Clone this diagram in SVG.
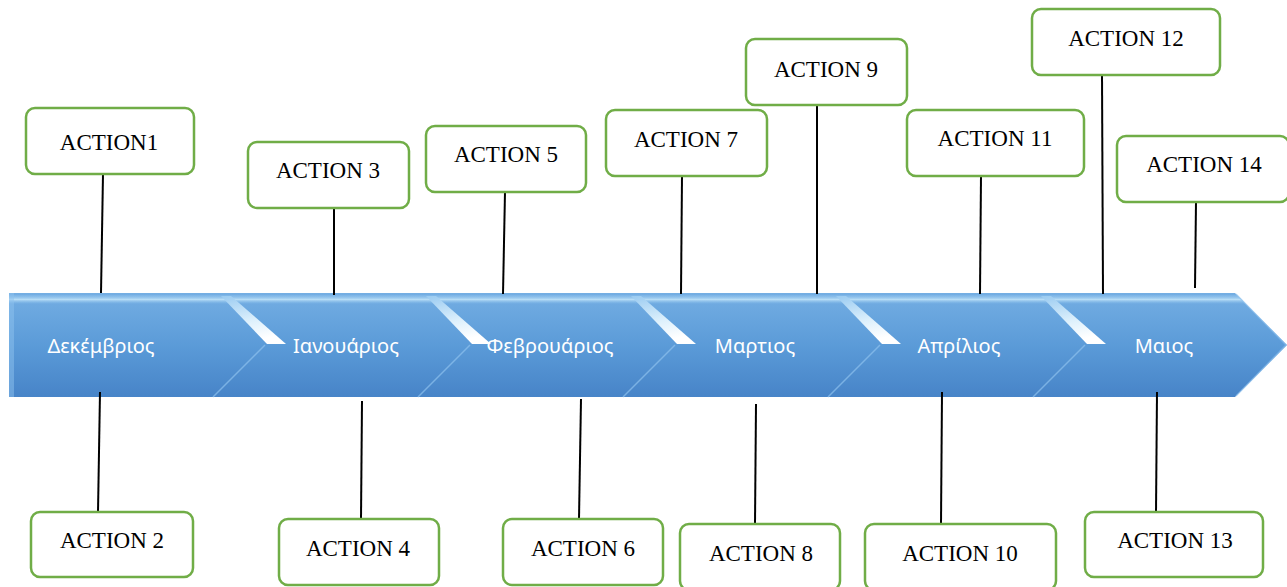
<svg xmlns="http://www.w3.org/2000/svg" width="1287" height="587" viewBox="0 0 1287 587">
<style>
.box{fill:#fff;stroke:#70AD47;stroke-width:2.5}
.lbl{font-family:"Liberation Serif","Times New Roman",serif;font-size:23px;fill:#000;text-anchor:middle}
.mon{font-family:"Noto Sans","Open Sans","DejaVu Sans",sans-serif;font-size:20px;fill:#fff;text-anchor:middle}
.con{stroke:#000;stroke-width:2;fill:none}
.seam{stroke:#8EC2EE;stroke-width:1.5;fill:none;opacity:0.7}
</style>
<defs>
<linearGradient id="bar" gradientUnits="userSpaceOnUse" x1="0" y1="293" x2="0" y2="397">
<stop offset="0" stop-color="#74AEE3"/>
<stop offset="0.5" stop-color="#5B9BD8"/>
<stop offset="1" stop-color="#4784C8"/>
</linearGradient>
<linearGradient id="strip" x1="0" y1="0" x2="0" y2="1">
<stop offset="0" stop-color="#8EC3EE" stop-opacity="0.3"/>
<stop offset="0.5" stop-color="#BFE2F8" stop-opacity="0.9"/>
<stop offset="1" stop-color="#8EC3EE" stop-opacity="0"/>
</linearGradient>
<linearGradient id="band" x1="0" y1="0" x2="0.3" y2="1">
<stop offset="0" stop-color="#9ACBF1"/>
<stop offset="0.6" stop-color="#DDF0FC"/>
<stop offset="1" stop-color="#FFFFFF"/>
</linearGradient>
</defs>
<rect width="1287" height="587" fill="#fff"/>
<g id="timeline-bar">
<path d="M9,293 L1235,293 L1287,345 L1235,397 L9,397 Z" fill="url(#bar)"/>
<polygon points="9,295 1237,295 1246,304 9,304" fill="url(#strip)"/>
<rect x="9" y="293" width="5" height="104" fill="#8EC2EE" opacity="0.5"/>
<path class="seam" d="M265,345 L213,397 M470,345 L418,397 M675,345 L623,397 M880,345 L828,397 M1085,345 L1033,397"/>
<path d="M1236,294 L1286,345 L1236,396" fill="none" stroke="#8EC2EE" stroke-width="1.5" opacity="0.6"/>
<polygon points="221,296 231,296 286,344 267,344" fill="url(#band)"/>
<polygon points="426,296 436,296 491,344 472,344" fill="url(#band)"/>
<polygon points="631,296 641,296 696,344 677,344" fill="url(#band)"/>
<polygon points="836,296 846,296 901,344 882,344" fill="url(#band)"/>
<polygon points="1041,296 1051,296 1106,344 1087,344" fill="url(#band)"/>
</g>
<g id="months">
<text class="mon" x="101" y="353">Δεκέμβριος</text>
<text class="mon" x="346" y="353">Ιανουάριος</text>
<text class="mon" x="550" y="353">Φεβρουάριος</text>
<text class="mon" x="755" y="353">Μαρτιος</text>
<text class="mon" x="959" y="353">Απρίλιος</text>
<text class="mon" x="1164" y="353">Μαιος</text>
</g>
<g id="connectors">
<line class="con" x1="103" y1="174" x2="101" y2="293"/>
<line class="con" x1="334" y1="208" x2="334" y2="295"/>
<line class="con" x1="505" y1="192" x2="503" y2="294"/>
<line class="con" x1="682" y1="176" x2="681" y2="294"/>
<line class="con" x1="817" y1="105" x2="817" y2="294"/>
<line class="con" x1="981" y1="176" x2="980" y2="294"/>
<line class="con" x1="1102" y1="75" x2="1103" y2="294"/>
<line class="con" x1="1196" y1="202" x2="1195" y2="288"/>
<line class="con" x1="100" y1="392" x2="98" y2="512"/>
<line class="con" x1="362" y1="401" x2="361" y2="519"/>
<line class="con" x1="581" y1="399" x2="579" y2="519"/>
<line class="con" x1="756" y1="404" x2="755" y2="524"/>
<line class="con" x1="942" y1="392" x2="941" y2="524"/>
<line class="con" x1="1157" y1="392" x2="1156" y2="512"/>
</g>
<g id="action1"><rect class="box" x="26" y="108" width="168" height="66" rx="9"/><text class="lbl" x="109" y="150">ACTION1</text></g>
<g id="action2"><rect class="box" x="31" y="512" width="162" height="65" rx="9"/><text class="lbl" x="112" y="548">ACTION 2</text></g>
<g id="action3"><rect class="box" x="248" y="142" width="161" height="66" rx="9"/><text class="lbl" x="328" y="178">ACTION 3</text></g>
<g id="action4"><rect class="box" x="279" y="519" width="160" height="66" rx="9"/><text class="lbl" x="358" y="556">ACTION 4</text></g>
<g id="action5"><rect class="box" x="426" y="126" width="160" height="66" rx="9"/><text class="lbl" x="506" y="162">ACTION 5</text></g>
<g id="action6"><rect class="box" x="503" y="519" width="160" height="66" rx="9"/><text class="lbl" x="583" y="556">ACTION 6</text></g>
<g id="action7"><rect class="box" x="606" y="110" width="161" height="66" rx="9"/><text class="lbl" x="686" y="147">ACTION 7</text></g>
<g id="action8"><rect class="box" x="680" y="524" width="160" height="66" rx="9"/><text class="lbl" x="761" y="561">ACTION 8</text></g>
<g id="action9"><rect class="box" x="746" y="39" width="161" height="66" rx="9"/><text class="lbl" x="826" y="77">ACTION 9</text></g>
<g id="action10"><rect class="box" x="865" y="524" width="191" height="66" rx="9"/><text class="lbl" x="960" y="561">ACTION 10</text></g>
<g id="action11"><rect class="box" x="907" y="110" width="177" height="66" rx="9"/><text class="lbl" x="995" y="146">ACTION 11</text></g>
<g id="action12"><rect class="box" x="1032" y="9" width="188" height="66" rx="9"/><text class="lbl" x="1126" y="46">ACTION 12</text></g>
<g id="action13"><rect class="box" x="1085" y="512" width="178" height="65" rx="9"/><text class="lbl" x="1175" y="548">ACTION 13</text></g>
<g id="action14"><rect class="box" x="1117" y="136" width="172" height="66" rx="9"/><text class="lbl" x="1204" y="172">ACTION 14</text></g>
</svg>
